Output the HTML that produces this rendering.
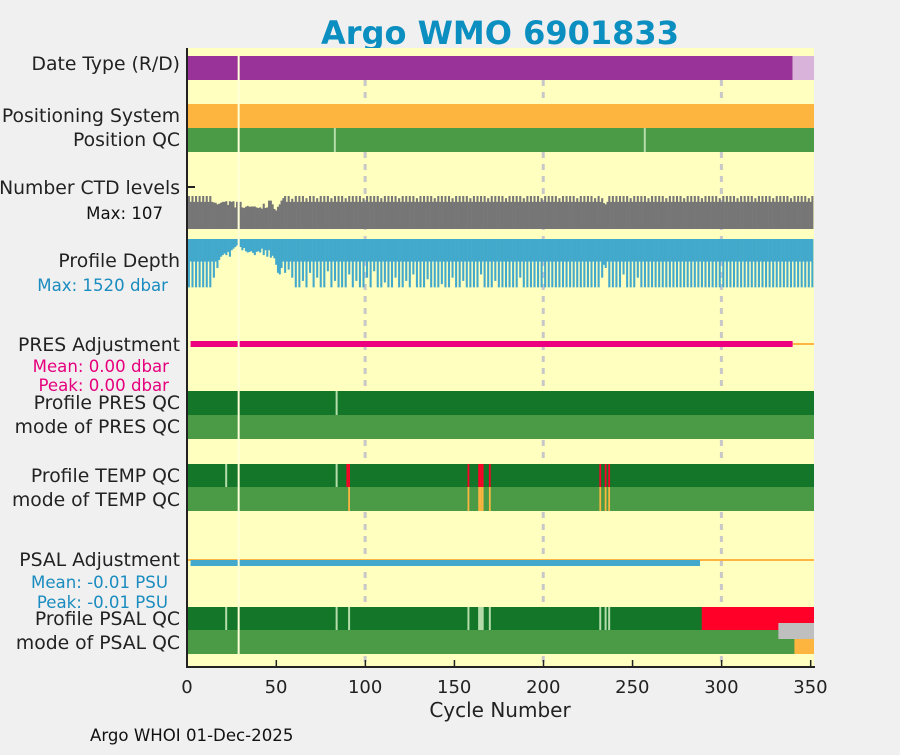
<!DOCTYPE html>
<html><head><meta charset="utf-8"><style>
body{margin:0;background:#f0f0f0;width:900px;height:750px;overflow:hidden;font-family:"Liberation Sans","DejaVu Sans",sans-serif}
svg text{font-family:"DejaVu Sans","Liberation Sans",sans-serif}
</style></head><body>
<svg id="c" width="900" height="750" xmlns="http://www.w3.org/2000/svg">
<rect x="0" y="0" width="900" height="750" fill="#f0f0f0"/>
<text x="500" y="44" text-anchor="middle" font-size="32" font-weight="bold" fill="#0b8ec0">Argo WMO 6901833</text>
<rect x="187" y="48" width="627" height="619" fill="#ffffc0"/>
<g id="grid"></g><g id="marks"></g>
<g font-size="18.8" fill="#222" text-anchor="end">
<text x="180" y="70">Date Type (R/D)</text>
<text x="180" y="122">Positioning System</text>
<text x="180" y="146">Position QC</text>
<text x="180" y="194">Number CTD levels</text>
<text x="180" y="267">Profile Depth</text>
<text x="180" y="351">PRES Adjustment</text>
<text x="180" y="409">Profile PRES QC</text>
<text x="180" y="433">mode of PRES QC</text>
<text x="180" y="482">Profile TEMP QC</text>
<text x="180" y="506">mode of TEMP QC</text>
<text x="180" y="566">PSAL Adjustment</text>
<text x="180" y="625">Profile PSAL QC</text>
<text x="180" y="649">mode of PSAL QC</text>
</g>
<g font-size="16.6" text-anchor="end">
<text x="163" y="219" fill="#111">Max: 107</text>
<text x="168" y="291" fill="#1a8cbf">Max: 1520 dbar</text>
<text x="169" y="372" fill="#e6007e">Mean: 0.00 dbar</text>
<text x="169" y="391" fill="#e6007e">Peak: 0.00 dbar</text>
<text x="168" y="588" fill="#1a8cbf">Mean: -0.01 PSU</text>
<text x="168" y="608" fill="#1a8cbf">Peak: -0.01 PSU</text>
</g>
<g id="axis"></g>
<text x="500" y="717" text-anchor="middle" font-size="20" fill="#222">Cycle Number</text>
<text x="90" y="741" font-size="16.6" fill="#111">Argo WHOI 01-Dec-2025</text>
</svg>
<script>
const xTicks=[0,50,100,150,200,250,300,350];
const gridCycles=[100,200,300];
const ctdLevels=[107,88,107,88,107,88,107,88,107,88,107,88,107,88,86,85,80,82,85,88,
88,90,78,90,88,90,70,88,0,88,70,68,72,75,72,73,73,73,70,68,
70,66,82,68,70,92,92,80,65,60,72,80,92,100,107,88,107,88,98,88,
107,88,107,88,107,88,100,88,107,88,107,88,100,88,107,88,107,88,107,88,
100,88,107,88,107,88,107,88,100,88,107,88,107,88,107,88,107,88,100,88,
107,88,107,88,107,88,107,88,100,88,107,88,107,88,107,88,107,88,100,88,
107,88,107,88,107,88,107,88,100,88,107,88,107,88,107,88,107,88,100,88,
107,88,107,88,107,88,107,88,100,88,107,88,107,88,107,88,107,88,100,88,
107,88,107,88,107,88,107,88,100,88,107,88,107,88,107,88,107,88,100,88,
107,88,107,88,107,88,107,88,100,88,107,88,107,88,107,88,107,88,100,88,
107,88,107,88,107,88,107,88,100,88,107,88,107,88,107,88,107,88,100,88,
107,88,107,88,107,88,107,88,100,88,107,88,100,84,80,88,107,88,107,88,
107,88,107,88,107,88,107,88,100,88,107,88,107,88,107,88,107,88,100,88,
107,88,107,88,107,88,107,88,100,88,107,88,107,88,107,88,107,88,100,88,
107,88,107,88,107,88,107,88,100,88,107,88,107,88,107,88,107,88,100,88,
107,88,107,88,107,88,107,88,100,88,107,88,107,88,107,88,107,88,100,88,
107,88,107,88,107,88,107,88,100,88,107,88,107,88,107,88,107,88,100,88,
107,88,107,88,107,88,107,88,100,88,107];
const profileDepth=[1500,700,1500,700,1500,700,1500,700,1500,700,1500,700,1500,700,1200,700,900,650,550,500,
450,500,400,550,350,300,250,200,0,250,350,280,380,420,400,380,430,500,400,380,
420,300,500,350,550,350,580,520,600,800,1050,1100,900,700,1050,700,950,700,1200,700,
1500,700,1500,700,1300,700,1500,700,1050,700,1500,700,1200,700,1500,700,1500,700,1000,700,
1500,700,1300,700,1500,700,1500,700,1500,700,1100,700,1500,700,1300,700,1500,700,1500,700,
1200,700,1500,700,1000,700,1500,700,1500,700,1350,700,1500,700,1500,700,1200,700,1500,700,
1500,700,1300,700,1500,700,1100,700,1500,700,1500,700,1500,700,1250,700,1500,700,1500,700,
1500,700,1400,700,1500,700,1500,700,1200,700,1500,700,1500,700,1300,700,1500,700,1500,700,
1500,700,1500,700,1100,700,1500,700,1500,700,1500,700,1300,700,1500,700,1500,700,1500,700,
1500,700,1500,700,1500,700,1200,700,1500,700,1500,700,1500,700,1500,700,1500,700,1500,700,
1500,700,1500,700,1500,700,1500,700,1500,700,1500,700,1500,700,1500,700,1500,700,1500,700,
1500,700,1500,700,1500,700,1500,700,1500,700,1500,700,1200,800,900,700,1500,700,1500,700,
1500,700,1500,700,1100,700,1500,700,1500,700,1500,700,1200,700,1500,700,1500,700,1500,700,
1500,700,1500,700,1500,700,1500,700,1500,700,1500,700,1500,700,1500,700,1500,700,1500,700,
1500,700,1500,700,1500,700,1500,700,1500,700,1500,700,1500,700,1500,700,1500,700,1500,700,
1500,700,1500,700,1500,700,1500,700,1500,700,1500,700,1500,700,1500,700,1500,700,1500,700,
1500,700,1500,700,1500,700,1500,700,1500,700,1500,700,1500,700,1500,700,1500,700,1500,700,
1500,700,1500,700,1500,700,1500,700,1500,700,1500];
const missingCycles=[29];
const posQcLight=[83,257];
const presQcLight=[84];
const tempQcLight=[22,84];
const tempQcBad=[90,91,158,164,165,166,170,232,235,237];
const tempModeFlag=[91,158,164,165,166,170,232,235,237];
const psalQcLight=[22,84,91,158,164,165,166,170,232,235,237];
const psalBadStart=289;
const dateDelayedEnd=340;
const presAdjEnd=340;
const psalAdjEnd=288;
const ctdMax=107, depthMax=1520;

const NS="http://www.w3.org/2000/svg";
const X0=187,X1=814,C0=0,C1=352;
const xs=c=>X0+(c-C0)/(C1-C0)*(X1-X0);
const cw=xs(1)-xs(0);
const marks=document.getElementById('marks'),grid=document.getElementById('grid'),axis=document.getElementById('axis');
function R(p,x,y,w,h,f,name){const r=document.createElementNS(NS,'rect');r.setAttribute('x',x);r.setAttribute('y',y);r.setAttribute('width',Math.max(w,0));r.setAttribute('height',h);r.setAttribute('fill',f);


p.appendChild(r);return r;}
gridCycles.forEach(g=>{const l=document.createElementNS(NS,'line');l.setAttribute('x1',xs(g));l.setAttribute('x2',xs(g));l.setAttribute('y1',80);l.setAttribute('y2',667);l.setAttribute('stroke','#c8c8c8');l.setAttribute('stroke-width',3);l.setAttribute('stroke-dasharray','6 6');


grid.appendChild(l);});
const PUR='#993399',LPUR='#d9b3d9',ORA='#fdb53f',G='#4a9a46',DG='#137629',LG='#b5dcaa',RED='#ff0029',GRY='#bfbfbf',GRAY='#767676',BLU='#43a9cc',MAG='#ec0080';
function band(y,h,c,name){R(marks,X0,y,X1-X0,h,c,name);}
function lines(arr,y,h,c,name,w){arr.forEach(k=>R(marks,xs(k)-(w||cw)/2,y,w||cw,h,c,name));}
R(marks,X0,56,xs(dateDelayedEnd)-X0,24,PUR,'date-type-delayed');
R(marks,xs(dateDelayedEnd),56,X1-xs(dateDelayedEnd),24,LPUR,'date-type-realtime');
band(104,24,ORA,'positioning-system-bar');
band(128,24,G,'position-qc-bar');lines(posQcLight,128,24,LG,'position-qc-flag',2);
ctdLevels.forEach((v,i)=>{if(!v)return;const h=v/ctdMax*33;R(marks,xs(i+0.5),229-h,cw+0.3,h,GRAY,'ctd-level-bar');});
profileDepth.forEach((v,i)=>{if(!v)return;const h=v/depthMax*49;R(marks,xs(i+0.5),239,cw+0.3,h,BLU,'profile-depth-bar');});
R(marks,xs(presAdjEnd),343,X1-xs(presAdjEnd),2,ORA,'pres-adjustment-fill');
R(marks,xs(2),341,xs(presAdjEnd)-xs(2),6,MAG,'pres-adjustment-line');
band(391,24,DG,'profile-pres-qc-bar');lines(presQcLight,391,24,LG,'pres-qc-flag',2);
band(415,24,G,'mode-pres-qc-bar');
band(464,23,DG,'profile-temp-qc-bar');lines(tempQcLight,464,23,LG,'temp-qc-flag',2);lines(tempQcBad,464,23,RED,'temp-qc-bad');
band(487,24,G,'mode-temp-qc-bar');lines(tempModeFlag,487,24,ORA,'temp-mode-flag');
band(559,2,ORA,'psal-adjustment-fill');
R(marks,xs(2),560,xs(psalAdjEnd)-xs(2),6,BLU,'psal-adjustment-line');
band(607,23,DG,'profile-psal-qc-bar');lines(psalQcLight,607,23,LG,'psal-qc-flag',2);
R(marks,xs(psalBadStart),607,X1-xs(psalBadStart),23,RED,'psal-qc-bad');
band(630,24,G,'mode-psal-qc-bar');
R(marks,xs(332),623,X1-xs(332),16,GRY,'psal-qc-missing');
R(marks,xs(341),639,X1-xs(341),15,ORA,'psal-mode-flag');
missingCycles.forEach(m=>R(marks,xs(m)-1,56,2,598,'#ffffd8','missing-cycle-line'));
R(axis,X0-1,48,2,620,'#222','y-axis-line');
R(axis,X0-1,666,X1-X0+2,2,'#222','x-axis-line');
xTicks.forEach(t=>{R(axis,xs(t)-0.5,660,1.5,6,'#222','x-tick');
const tx=document.createElementNS(NS,'text');tx.setAttribute('x',xs(t));tx.setAttribute('y',693);tx.setAttribute('text-anchor','middle');tx.setAttribute('font-size','18');tx.setAttribute('fill','#222');tx.textContent=t;


axis.appendChild(tx);});
R(axis,187,186,8,2,'#222','ctd-tick');
</script>
</body></html>
